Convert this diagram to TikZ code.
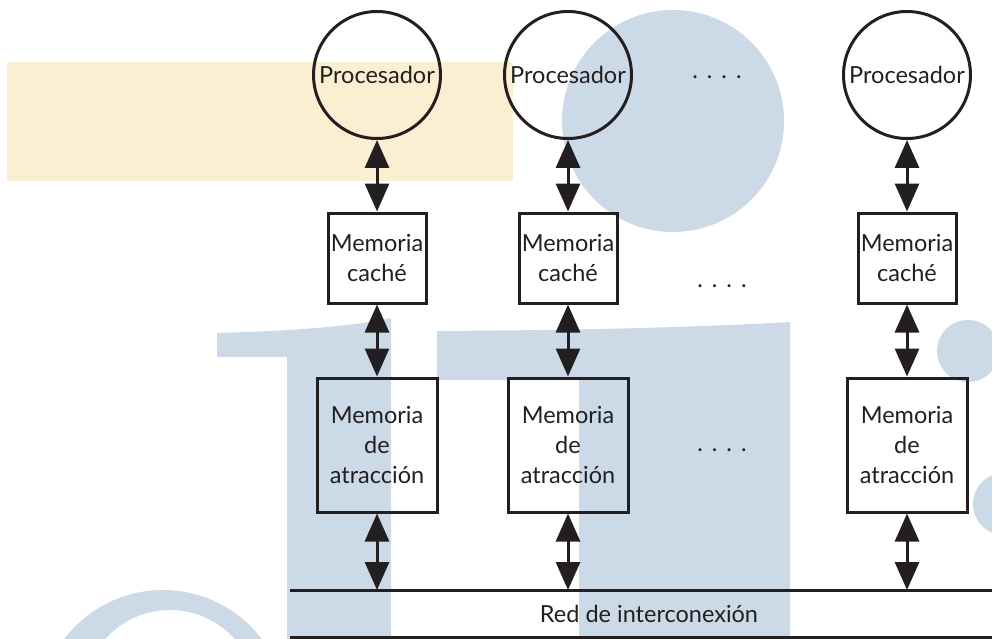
\documentclass[tikz,border=0pt]{standalone}
\usepackage{fontspec}
\setmainfont{Lato}
\usetikzlibrary{arrows.meta}
\definecolor{wblue}{HTML}{CBDAE6}
\definecolor{wyellow}{HTML}{FAEFD0}
\definecolor{ink}{HTML}{231F20}
\begin{document}
\begin{tikzpicture}[x=1pt,y=-1pt,
  lbl/.style={font=\fontsize{23.5}{30}\selectfont,text=ink},
  proc/.style={circle,draw=ink,line width=3pt,minimum size=127pt,inner sep=0pt,lbl},
  cachebox/.style={rectangle,draw=ink,line width=3pt,inner sep=0pt,align=center,minimum width=98pt,minimum height=90pt,lbl},
  attbox/.style={rectangle,draw=ink,line width=3pt,inner sep=0pt,align=center,minimum width=120pt,minimum height=134pt,lbl},
  link/.style={draw=ink,line width=3pt,{Triangle[length=28pt,width=24pt]}-{Triangle[length=28pt,width=24pt]}},
  netline/.style={draw=ink,line width=3pt},
  dots/.style={lbl,anchor=base}]
\useasboundingbox (0,0) rectangle (992,639);
\clip (0,0) rectangle (992,639);
% watermark background
\fill[wyellow] (7,62) rectangle (513,181);
\fill[wblue] (673,121) circle[radius=111];
\fill[wblue] (217,333) .. controls (300,331) and (360,325) .. (391,318) -- (391,639) -- (287,639) -- (287,357) -- (217,357) -- cycle;
\fill[wblue] (437,331) .. controls (600,330) and (700,327) .. (790,322) -- (790,639) -- (579,639) -- (579,380) -- (437,380) -- cycle;
\fill[wblue] (968,351) circle[radius=31];
\fill[wblue] (1004,504) circle[radius=31];
\fill[wblue,even odd rule] (163,714) circle[radius=124] (170,697) circle[radius=87];
% processors
\node[proc] (p1) at (377,75) {Procesador};
\node[proc] (p2) at (568,75) {Procesador};
\node[proc] (p3) at (907,75) {Procesador};
\node[dots] (d1) at (717,79) {.\hspace{9pt}.\hspace{9pt}.\hspace{9pt}.};
% caches
\node[cachebox] (c1) at (377,258) {Memoria\\caché};
\node[cachebox] (c2) at (568,258) {Memoria\\caché};
\node[cachebox] (c3) at (907,258) {Memoria\\caché};
\node[dots] (d2) at (722,287) {.\hspace{9pt}.\hspace{9pt}.\hspace{9pt}.};
% attraction memories
\node[attbox] (a1) at (377,445) {Memoria\\de\\atracción};
\node[attbox] (a2) at (568,445) {Memoria\\de\\atracción};
\node[attbox] (a3) at (907,445) {Memoria\\de\\atracción};
\node[dots] (d3) at (722,451) {.\hspace{9pt}.\hspace{9pt}.\hspace{9pt}.};
% network
\coordinate (nL) at (290,590);
\coordinate (nR) at (992,590);
\coordinate (bL) at (290,637);
\coordinate (bR) at (992,637);
\coordinate (n1) at (377,590);
\coordinate (n2) at (568,590);
\coordinate (n3) at (907,590);
\draw[netline] (nL) -- (nR);
\draw[netline] (bL) -- (bR);
\node[lbl] (net) at (649,614) {Red de interconexión};
% links
\draw[link] (p1) -- (c1);
\draw[link] (p2) -- (c2);
\draw[link] (p3) -- (c3);
\draw[link] (c1) -- (a1);
\draw[link] (c2) -- (a2);
\draw[link] (c3) -- (a3);
\draw[link] (a1) -- (n1);
\draw[link] (a2) -- (n2);
\draw[link] (a3) -- (n3);
\end{tikzpicture}
\end{document}
